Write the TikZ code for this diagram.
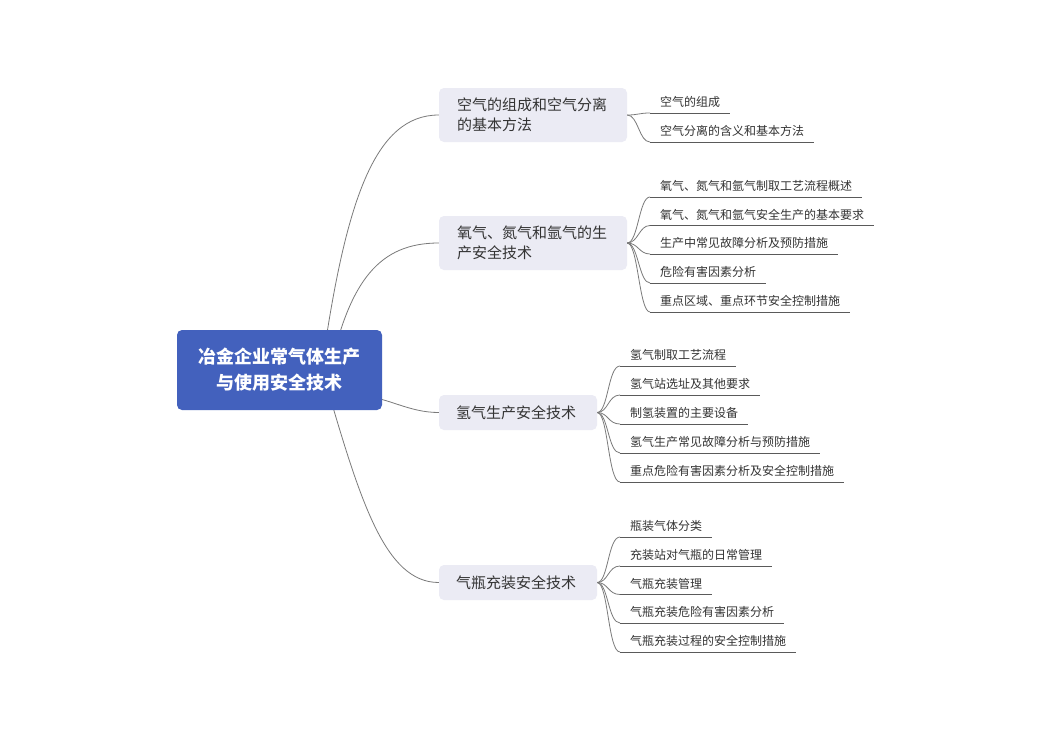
\documentclass[tikz,border=0pt]{standalone}
\usepackage{fontspec}
\setmainfont{Noto Sans CJK SC}
\usetikzlibrary{backgrounds,calc}
\definecolor{rootblue}{HTML}{4361BD}
\definecolor{branchfill}{HTML}{EBEBF4}
\definecolor{linegray}{HTML}{7A7A7A}
\definecolor{ulgray}{HTML}{5A5A5A}
\definecolor{txtgray}{HTML}{333333}
\begin{document}
\begin{tikzpicture}[x=1pt,y=-1pt,
  rootbox/.style={fill=rootblue, rounded corners=5pt, minimum width=205pt, minimum height=80pt, text=white, font=\fontsize{18}{26}\selectfont\bfseries, align=center, inner sep=0pt},
  branchbox/.style={fill=branchfill, rounded corners=5pt, inner sep=0pt, align=left, font=\fontsize{15}{20}\selectfont, text=txtgray},
  leaf/.style={anchor=south west, inner xsep=10pt, inner ysep=4pt, text height=9pt, text depth=2pt, font=\fontsize{12}{14}\selectfont, text=txtgray},
  conn/.style={draw=linegray, line width=0.8pt},
  uline/.style={draw=ulgray, line width=0.8pt}]
\begin{pgfonlayer}{background}
\fill[white] (0,0) rectangle (1052,744);
\end{pgfonlayer}
\useasboundingbox (0,0) rectangle (1052,744);

% root
\node[rootbox] (root) at (279.5,370) {冶金企业常气体生产\\与使用安全技术};

% branches
\node[branchbox, minimum width=188pt, minimum height=54pt, text width=152pt] (b1) at (533,115) {空气的组成和空气分离\\的基本方法};
\node[branchbox, minimum width=188pt, minimum height=54pt, text width=152pt] (b2) at (533,243) {氧气、氮气和氩气的生\\产安全技术};
\node[branchbox, minimum width=158pt, minimum height=35pt, text width=124pt] (b3) at (518,412.5) {氢气生产安全技术};
\node[branchbox, minimum width=158pt, minimum height=35pt, text width=124pt] (b4) at (518,582.5) {气瓶充装安全技术};

% leaves of b1
\node[leaf] (l11) at (650,113) {空气的组成};
\node[leaf] (l12) at (650,142) {空气分离的含义和基本方法};
% leaves of b2
\node[leaf] (l21) at (650,197) {氧气、氮气和氩气制取工艺流程概述};
\node[leaf] (l22) at (650,225.5) {氧气、氮气和氩气安全生产的基本要求};
\node[leaf] (l23) at (650,254) {生产中常见故障分析及预防措施};
\node[leaf] (l24) at (650,283) {危险有害因素分析};
\node[leaf] (l25) at (650,312) {重点区域、重点环节安全控制措施};
% leaves of b3
\node[leaf] (l31) at (620,366) {氢气制取工艺流程};
\node[leaf] (l32) at (620,395) {氢气站选址及其他要求};
\node[leaf] (l33) at (620,424) {制氢装置的主要设备};
\node[leaf] (l34) at (620,453) {氢气生产常见故障分析与预防措施};
\node[leaf] (l35) at (620,482) {重点危险有害因素分析及安全控制措施};
% leaves of b4
\node[leaf] (l41) at (620,537) {瓶装气体分类};
\node[leaf] (l42) at (620,566) {充装站对气瓶的日常管理};
\node[leaf] (l43) at (620,594.5) {气瓶充装管理};
\node[leaf] (l44) at (620,623) {气瓶充装危险有害因素分析};
\node[leaf] (l45) at (620,652) {气瓶充装过程的安全控制措施};

% underlines
\foreach \l in {l11,l12,l21,l22,l23,l24,l25,l31,l32,l33,l34,l35,l41,l42,l43,l44,l45}{
  \draw[uline] (\l.south west) -- (\l.south east);
}

% branch -> leaf connectors
\foreach \l in {l11,l12}{
  \draw[conn] (b1.east) .. controls +(11,0) and +(-11,0) .. (\l.south west);
}
\foreach \l in {l21,l22,l23,l24,l25}{
  \draw[conn] (b2.east) .. controls +(11,0) and +(-11,0) .. (\l.south west);
}
\foreach \l in {l31,l32,l33,l34,l35}{
  \draw[conn] (b3.east) .. controls +(11,0) and +(-12,0) .. (\l.south west);
}
\foreach \l in {l41,l42,l43,l44,l45}{
  \draw[conn] (b4.east) .. controls +(11,0) and +(-12,0) .. (\l.south west);
}

% root -> branch connectors
\begin{pgfonlayer}{background}
\draw[conn] ($(root.center)+(42,0)$) .. controls +(24,-170) and +(-64,0) .. (b1.west);
\draw[conn] ($(root.center)+(50.5,0)$) .. controls +(20,-90) and +(-59,0) .. (b2.west);
\draw[conn] ($(root.center)+(80,25)$) .. controls +(30,3) and +(-30,0) .. (b3.west);
\draw[conn] ($(root.center)+(45.5,10)$) .. controls +(35,120) and +(-54,0) .. (b4.west);
\end{pgfonlayer}
\end{tikzpicture}
\end{document}
